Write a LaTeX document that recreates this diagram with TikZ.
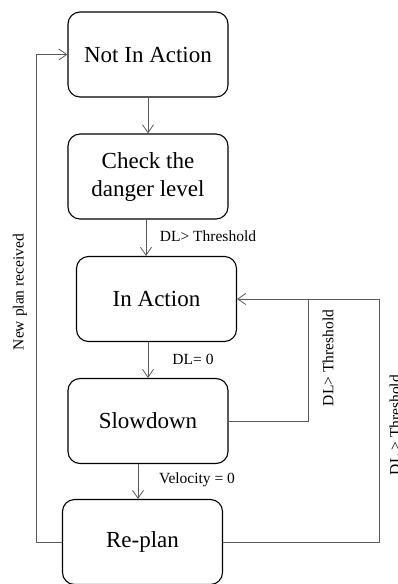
\documentclass[tikz,border=0pt]{standalone}
\usepackage{fontspec}
\setmainfont{Liberation Serif}
\usetikzlibrary{arrows.meta}

\begin{document}
\begin{tikzpicture}[x=1pt, y=-1pt, every node/.style={inner sep=0pt}, >={Straight Barb[length=8pt,width=11pt]}]
    	\tikzstyle{state}=[draw, line width=1.1pt, rounded corners=12pt, minimum width=160pt, minimum height=85pt, align=center, font=\fontsize{23}{28}\selectfont]
    	\tikzstyle{link}=[draw=black!65, line width=0.8pt]
    	\tikzstyle{cond}=[font=\fontsize{15.5}{18}\selectfont]
    	\useasboundingbox (0,0) rectangle (397,584);
    	\node[state] (ni) at (148,54.5) {Not In Action};
    	\node[state] (cd) at (148,176.5) {Check the\\danger level};
    	\node[state] (ia) at (156.5,299) {In Action};
    	\node[state] (sd) at (148,421) {Slowdown};
    	\node[state] (rp) at (142.5,542) {Re-plan};
	    \coordinate (j1) at (308,299);
	    \coordinate (j2) at (379,299);
	    \draw[link,->] (ni) -- (cd);
	    \draw[link,->] ([xshift=-2pt]cd.south) -- ([xshift=-2pt]cd.south |- ia.north);
	    \draw[link,->] (ia.south -| sd.north) -- (sd.north);
	    \draw[link,->] ([xshift=-10pt]sd.south) -- ([xshift=-10pt]sd.south |- rp.north);
	    \draw[link,->] (rp.west) -- ++(-26,0) |- (ni.west);
	    \draw[link,->] (sd.east) -| (j1) -- (ia.east);
	    \draw[link] (rp.east) -| (j2) -- (j1);
	    \node[cond] (l1) at (208,236) {DL> Threshold};
	    \node[cond] (l2) at (193,359) {DL= 0};
	    \node[cond] (l3) at (197,480) {Velocity = 0};
	    \node[cond, rotate=90] (l4) at (20,292) {New plan received};
	    \node[cond, rotate=90] (l5) at (328,358) {DL> Threshold};
	    \node[cond, rotate=90] (l6) at (395,425) {DL > Threshold};
\end{tikzpicture}
\end{document}
